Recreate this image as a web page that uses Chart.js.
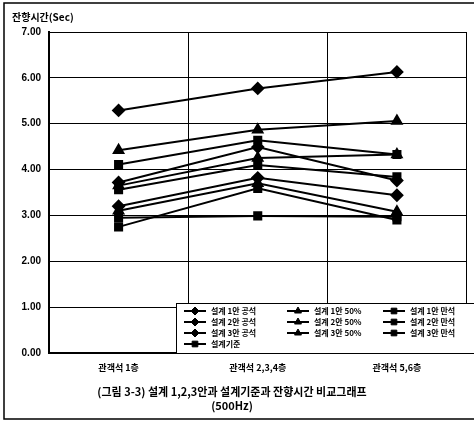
<!DOCTYPE html>
<html>
<head>
<meta charset="utf-8">
<script src="https://cdn.jsdelivr.net/npm/chart.js@4/dist/chart.umd.min.js"></script>
<style>
html,body{margin:0;padding:0;background:#fff;}
#wrap{position:relative;width:474px;height:423px;}
canvas{display:block;}
</style>
</head>
<body>
<div id="wrap"><canvas id="c" width="474" height="423"></canvas></div>
<script>
const categories = ["관객석 1층", "관객석 2,3,4층", "관객석 5,6층"];
const seriesNames = ["설계 1안 공석", "설계 1안 50%", "설계 1안 만석",
                     "설계 2안 공석", "설계 2안 50%", "설계 2안 만석",
                     "설계 3안 공석", "설계 3안 50%", "설계 3안 만석",
                     "설계기준"];
const s1Empty = [5.29, 5.77, 6.13];
const s1Half  = [4.42, 4.87, 5.06];
const s1Full  = [4.11, 4.64, 4.33];
const s2Empty = [3.72, 4.49, 3.76];
const s2Half  = [3.65, 4.25, 4.33];
const s2Full  = [3.56, 4.10, 3.84];
const s3Empty = [3.20, 3.82, 3.44];
const s3Half  = [3.10, 3.70, 3.08];
const s3Full  = [2.75, 3.59, 2.90];
const standard = [2.95, 2.99, 2.97];
const yTicks = [0, 1, 2, 3, 4, 5, 6, 7];
const yTitle = "잔향시간(Sec)";
const caption1 = "(그림 3-3) 설계 1,2,3안과 설계기준과 잔향시간 비교그래프";
const caption2 = "(500Hz)";

const seriesValues = [s1Empty, s1Half, s1Full, s2Empty, s2Half, s2Full, s3Empty, s3Half, s3Full, standard];
const markerStyles = ["rectRot", "triangle", "rect", "rectRot", "triangle", "rect", "rectRot", "triangle", "rect", "rect"];

const datasets = seriesValues.map((vals, i) => ({
  label: seriesNames[i],
  data: vals,
  borderColor: "#000",
  backgroundColor: "#000",
  borderWidth: 2,
  pointStyle: markerStyles[i],
  pointRadius: markerStyles[i] === "rect" ? 5 : 5.5,
  pointBackgroundColor: "#000",
  pointBorderColor: "#000",
  tension: 0
}));

const FONT = "'Liberation Sans', 'Noto Sans CJK KR', sans-serif";
const KFONT = "'Noto Sans CJK KR', 'Liberation Sans', sans-serif";

const decor = {
  id: "decor",
  beforeDraw(chart) {
    const ctx = chart.ctx;
    ctx.save();
    ctx.fillStyle = "#fff";
    ctx.fillRect(0, 0, chart.width, chart.height);
    ctx.restore();
  },
  afterDraw(chart) {
    const ctx = chart.ctx;
    const ca = chart.chartArea;
    ctx.save();
    // frame
    ctx.strokeStyle = "#000";
    ctx.lineWidth = 1.5;
    ctx.beginPath();
    ctx.moveTo(474, 3); ctx.lineTo(4, 3); ctx.lineTo(4, 419); ctx.lineTo(474, 419);
    ctx.stroke();
    // y title
    ctx.fillStyle = "#000";
    ctx.font = "bold 10px " + KFONT;
    ctx.textAlign = "left";
    ctx.textBaseline = "middle";
    ctx.fillText(yTitle, 12, 17);
    // caption
    ctx.font = "bold 11px " + KFONT;
    ctx.textAlign = "center";
    ctx.fillText(caption1, 232, 392);
    ctx.fillText(caption2, 232, 406);
    // legend box
    const lx = 176, ly = 303, lw = 298, lh = ca.bottom - 303;
    ctx.fillStyle = "#fff";
    ctx.fillRect(lx, ly, lw, lh);
    ctx.strokeStyle = "#000";
    ctx.lineWidth = 1;
    ctx.strokeRect(lx + 0.5, ly + 0.5, lw, lh);
    const colX = [184, 287, 383];
    const rowY = [311, 322, 333, 344];
    chart.data.datasets.forEach((ds, i) => {
      const cx = colX[i % 3], cy = rowY[Math.floor(i / 3)];
      ctx.strokeStyle = "#000";
      ctx.fillStyle = "#000";
      ctx.lineWidth = 2;
      ctx.beginPath();
      ctx.moveTo(cx, cy); ctx.lineTo(cx + 22, cy);
      ctx.stroke();
      ctx.lineWidth = 1;
      Chart.helpers.drawPoint(ctx, {pointStyle: ds.pointStyle, radius: 4, borderWidth: 1}, cx + 11, cy);
      ctx.fillStyle = "#000";
      ctx.font = "bold 8px " + KFONT;
      ctx.textAlign = "left";
      ctx.textBaseline = "middle";
      ctx.fillText(ds.label, cx + 27, cy);
    });
    ctx.restore();
  }
};

new Chart(document.getElementById("c"), {
  type: "line",
  data: { labels: categories, datasets },
  options: {
    responsive: false,
    animation: false,
    devicePixelRatio: 1,
    layout: { padding: { top: 32, right: 1, left: 0, bottom: 0 } },
    plugins: { legend: { display: false }, tooltip: { enabled: false } },
    scales: {
      x: {
        type: "category",
        offset: true,
        grid: { offset: true, color: "#000", lineWidth: 1, drawTicks: false },
        border: { color: "#000", width: 2 },
        ticks: { color: "#000", padding: 9, font: { family: KFONT, size: 9, weight: "bold" } },
        afterFit(s) { s.height = 70; }
      },
      y: {
        min: 0, max: 7,
        afterBuildTicks(s) { s.ticks = yTicks.map(v => ({ value: v })); },
        grid: { color: "#000", lineWidth: 1, drawTicks: false },
        border: { color: "#000", width: 2 },
        ticks: {
          color: "#000", padding: 8,
          font: { family: FONT, size: 10, weight: "bold" },
          callback: v => Number(v).toFixed(2)
        },
        afterFit(s) { s.width = 49; }
      }
    }
  },
  plugins: [decor]
});
</script>
</body>
</html>
